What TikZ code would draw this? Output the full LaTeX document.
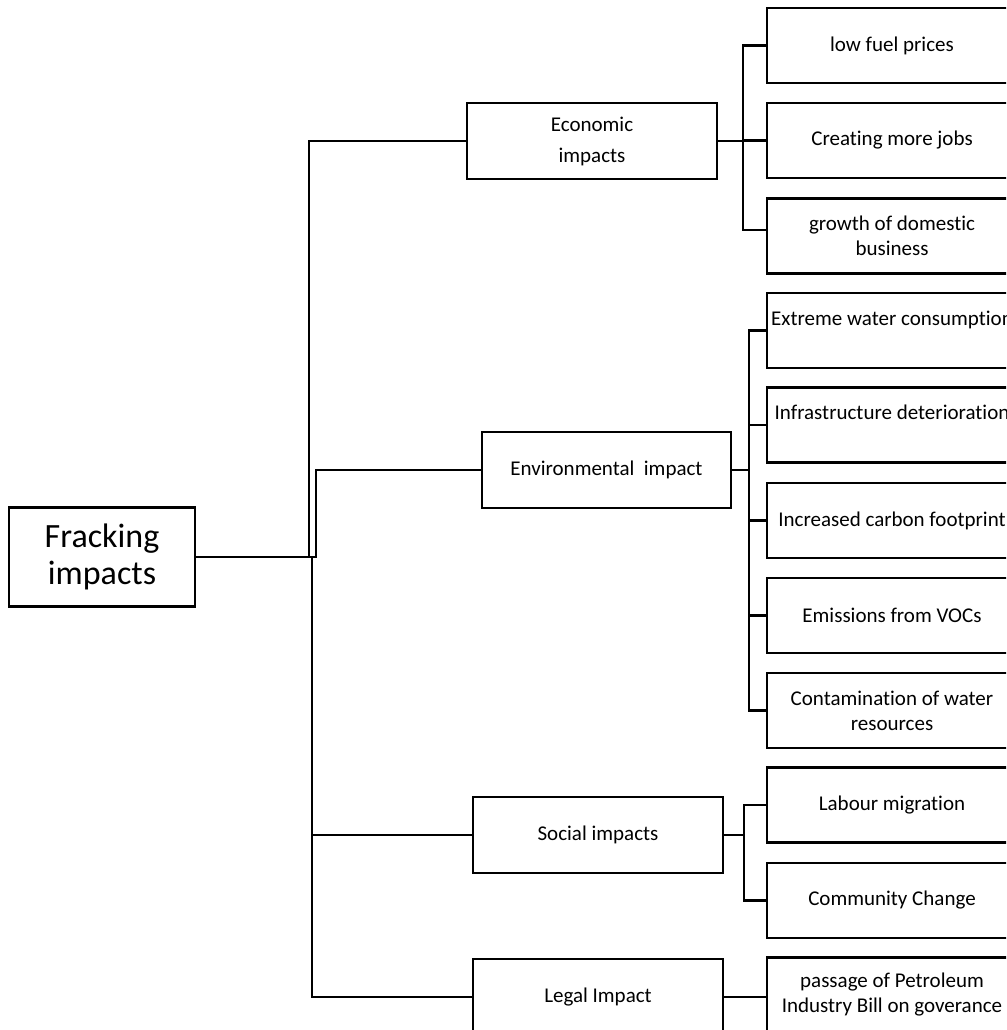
\documentclass[tikz,border=0pt]{standalone}
\usepackage{fontspec}
\setmainfont{Carlito}[Ligatures=NoCommon]
\usepackage{tikz}

\begin{document}
\begin{tikzpicture}[
  x=0.75pt, y=-0.75pt,
  root/.style={
    rectangle,
    draw=black,
    line width=1.8pt,
    minimum width=139.5pt,
    minimum height=74.25pt,
    align=center,
    inner sep=0pt,
    font=\fontsize{25.5}{27.75}\selectfont
  },
  branch/.style={
    rectangle,
    draw=black,
    line width=1.8pt,
    minimum width=187.5pt,
    minimum height=57pt,
    align=center,
    inner sep=0pt,
    font=\fontsize{15.75}{18.75}\selectfont
  },
  leaf/.style={
    branch,
    minimum width=187.5pt,
    minimum height=56.5pt
  },
  link/.style={line width=1.8pt, draw=black}
]

\path[use as bounding box] (0,0) rectangle (1006,1030);
\clip (0,0) rectangle (1006,1030);

% root and first level
\node[root] (root) at (102,557) {Fracking\\impacts};

\node[branch] (econ) at (592,141) {Economic\\[4.5pt]impacts};
\node[branch, minimum width=186.75pt] (env) at (606.5,470) {Environmental\ \ impact};
\node[branch] (soc) at (598,835) {Social impacts};
\node[branch] (legal) at (598,997) {Legal Impact};

% second level
\node[leaf] (fuel) at (892,45.5) {low fuel prices};
\node[leaf] (jobs) at (892,140.5) {Creating more jobs};
\node[leaf] (growth) at (892,236) {growth of domestic\\business};

\node[leaf] (water) at (892,330.5) {Extreme water consumption\\\mbox{}};
\node[leaf] (infra) at (892,425) {Infrastructure deterioration\\\mbox{}};
\node[leaf] (carbon) at (892,520.5) {Increased carbon footprint};
\node[leaf] (voc) at (892,615.5) {Emissions from VOCs};
\node[leaf] (contam) at (892,710.5) {Contamination of water\\resources};

\node[leaf] (labour) at (892,805) {Labour migration};
\node[leaf] (community) at (892,900.5) {Community Change};

\node[leaf] (bill) at (892,995) {passage of Petroleum\\Industry Bill on goverance};

% trunk
\coordinate (econJoin) at (309,557);
\coordinate (lowJoin) at (312,557);
\coordinate (envJoin) at (316,557);

\draw[link] (root.east) -- (envJoin) |- (env.west);
\draw[link] (econJoin) |- (econ.west);
\draw[link] (lowJoin) |- (soc.west);
\draw[link] (lowJoin) |- (legal.west);

% forks to the leaves
\coordinate (econFork) at (743,141);
\coordinate (envFork) at (749,470);
\coordinate (socFork) at (744,835);

\draw[link] (econ.east) -- (econFork);
\draw[link] (econFork) |- (fuel.west);
\draw[link] (econFork) |- (jobs.west);
\draw[link] (econFork) |- ([yshift=4.5pt]growth.west);

\draw[link] (env.east) -- (envFork);
\foreach \n in {water,infra,carbon,voc,contam}
  \draw[link] (envFork) |- (\n.west);

\draw[link] (soc.east) -- (socFork);
\draw[link] (socFork) |- (labour.west);
\draw[link] (socFork) |- (community.west);

\draw[link] (legal.east) -- (legal.east -| bill.west);

\end{tikzpicture}
\end{document}
